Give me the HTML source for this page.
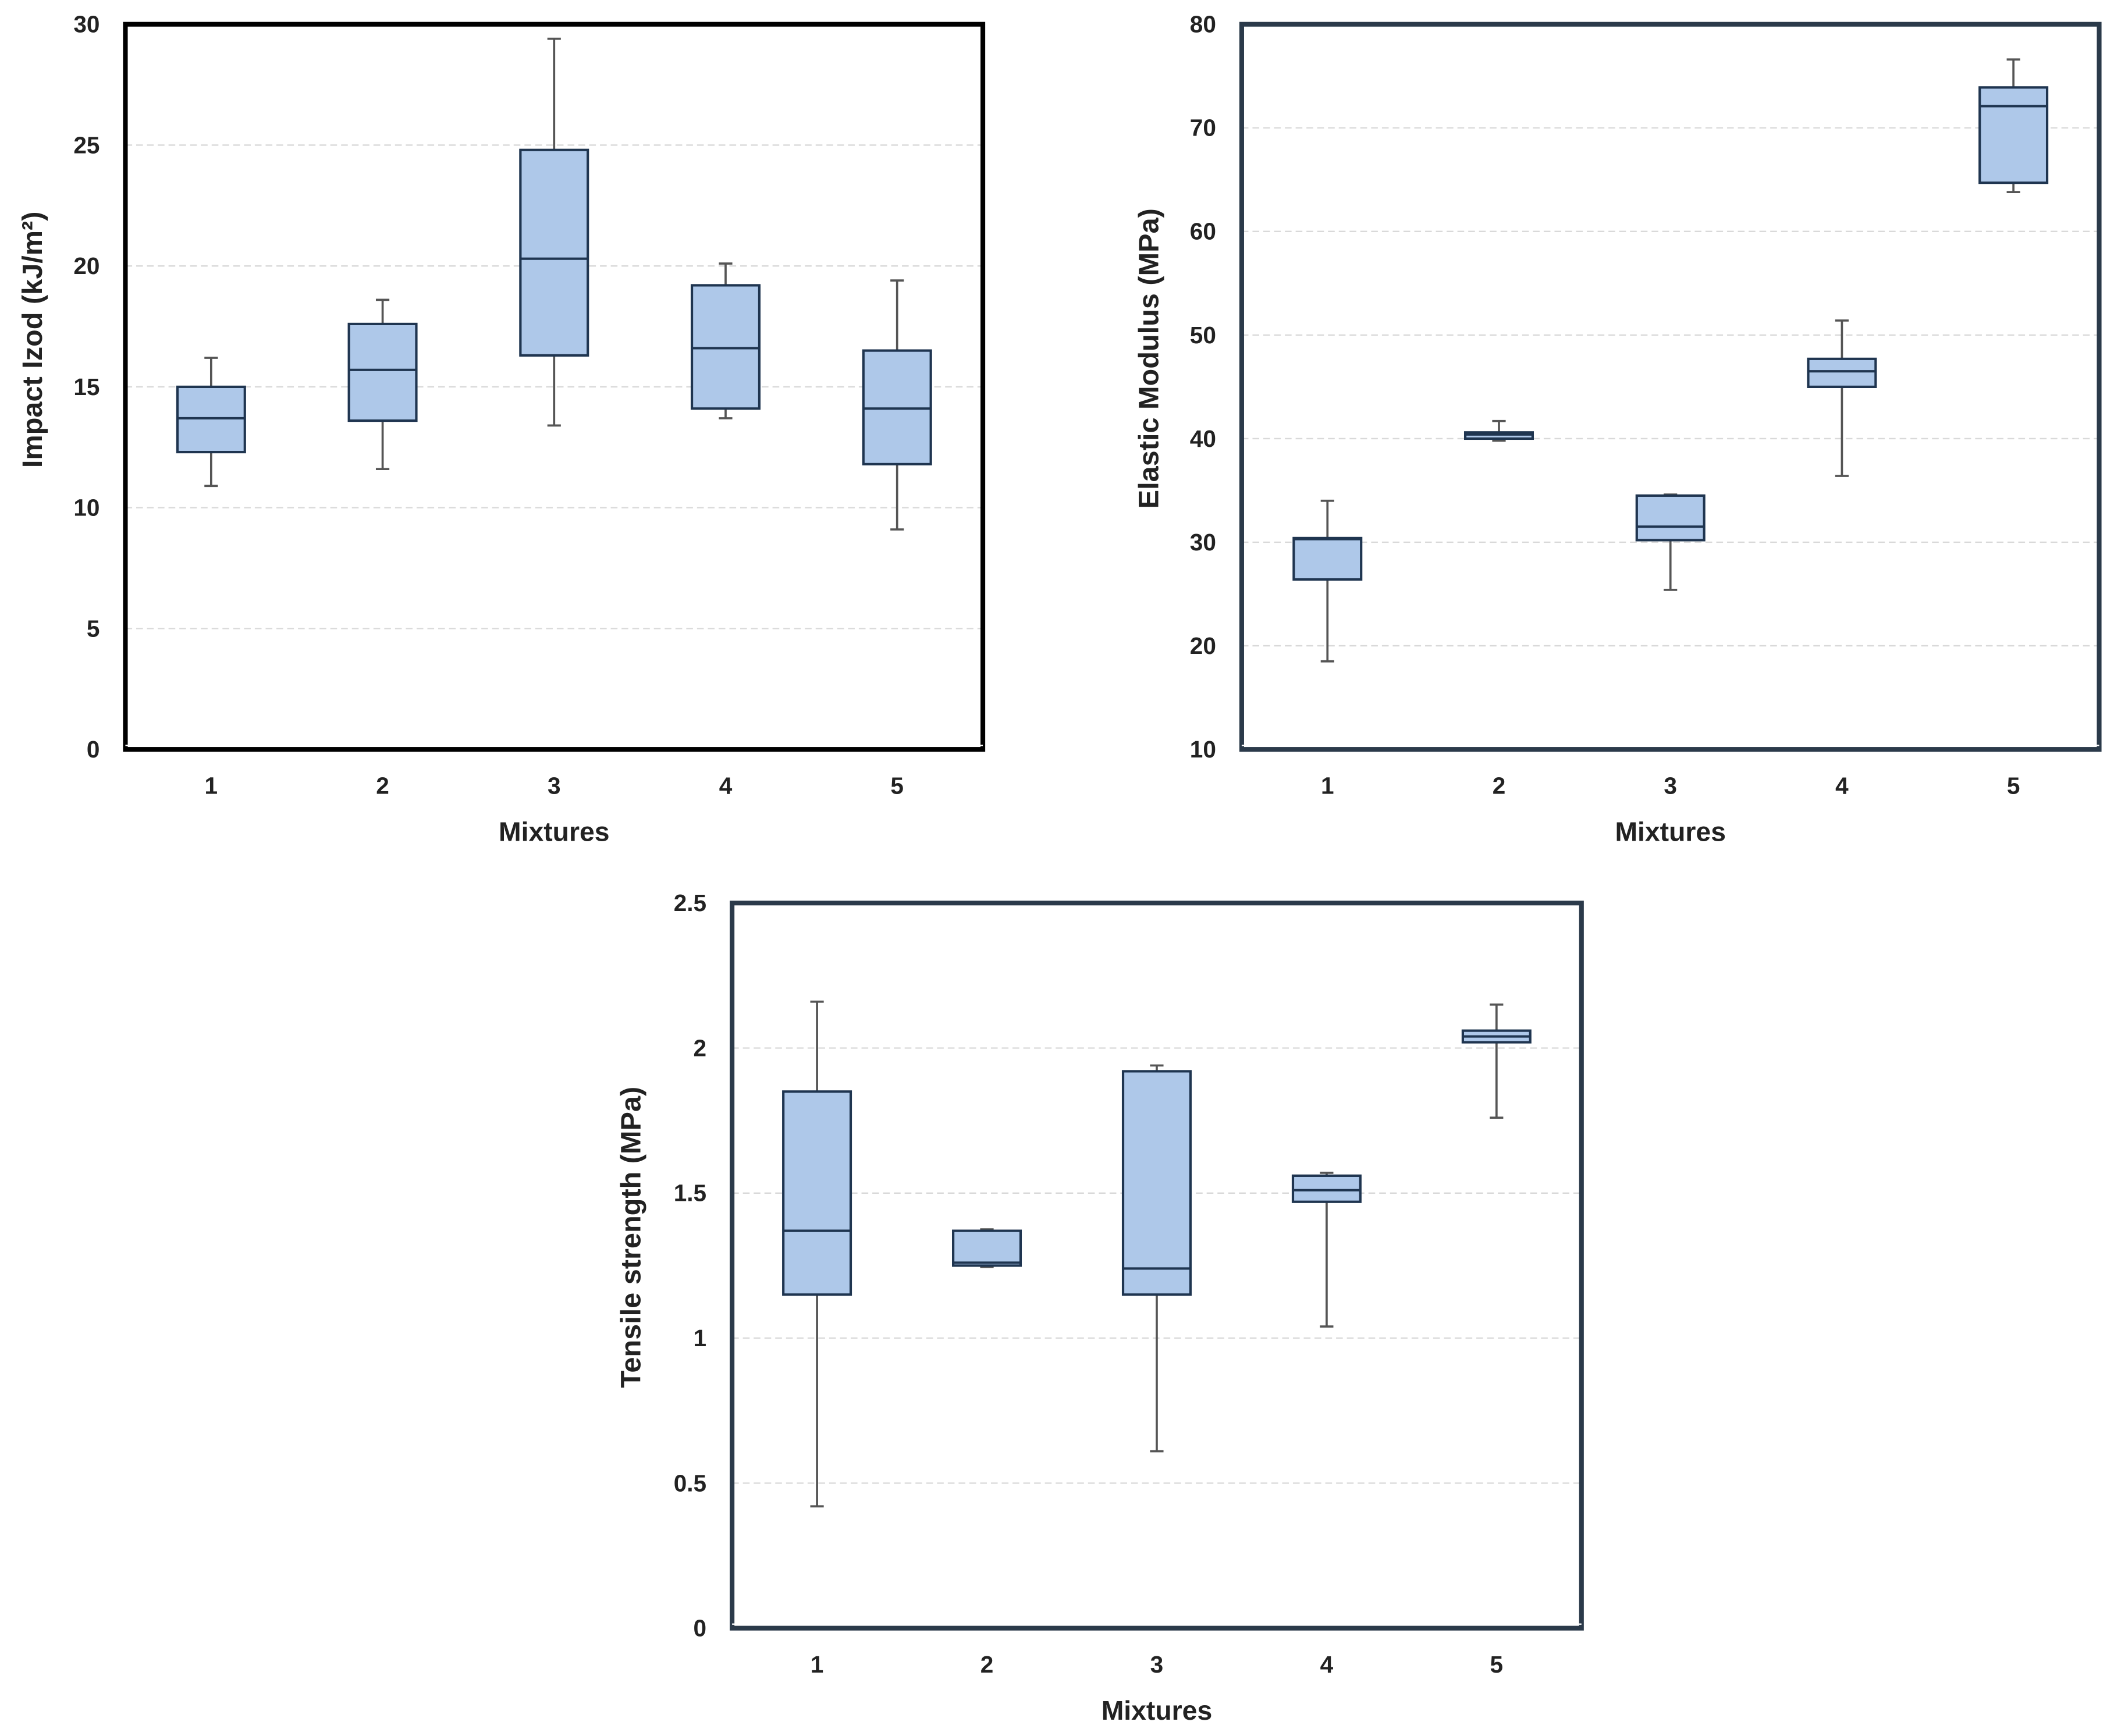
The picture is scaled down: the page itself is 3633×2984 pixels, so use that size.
<!DOCTYPE html>
<html><head><meta charset="utf-8"><style>
html,body{margin:0;padding:0;background:#fff;}
svg{display:block;}
text{font-family:"Liberation Sans",Arial,sans-serif;font-weight:bold;fill:#222;}
</style></head><body>
<svg id="svg" width="3633" height="2984" viewBox="0 0 1568 1288" preserveAspectRatio="none" xmlns="http://www.w3.org/2000/svg"></svg>
<script>
const categories = ["1","2","3","4","5"];
// [min, q1, median, q3, max]
const impactValues = [[10.9,12.3,13.7,15.0,16.2],[11.6,13.6,15.7,17.6,18.6],[13.4,16.3,20.3,24.8,29.4],[13.7,14.1,16.6,19.2,20.1],[9.1,11.8,14.1,16.5,19.4]];
const modulusValues = [[18.5,26.4,30.3,30.4,34.0],[39.8,40.0,40.4,40.6,41.7],[25.4,30.2,31.5,34.5,34.6],[36.4,45.0,46.5,47.7,51.4],[63.8,64.7,72.1,73.9,76.6]];
const tensileValues = [[0.42,1.15,1.37,1.85,2.16],[1.245,1.25,1.26,1.37,1.375],[0.61,1.15,1.24,1.92,1.94],[1.04,1.47,1.51,1.56,1.57],[1.76,2.02,2.04,2.06,2.15]];
const impactTicks = [0,5,10,15,20,25,30];
const modulusTicks = [10,20,30,40,50,60,70,80];
const tensileTicks = [0,0.5,1,1.5,2,2.5];
const impactTickLabels = ["0","5","10","15","20","25","30"];
const modulusTickLabels = ["10","20","30","40","50","60","70","80"];
const tensileTickLabels = ["0","0.5","1","1.5","2","2.5"];

const NS="http://www.w3.org/2000/svg";
const svg=document.getElementById('svg');
function mk(tag,attrs,parent){const e=document.createElementNS(NS,tag);for(const k in attrs)e.setAttribute(k,attrs[k]);(parent||svg).appendChild(e);return e;}

function chart(cfg){
  const g=mk('g',{});
  
  
  const {L,R,T,B,ymin,ymax}=cfg;
  const y=v=>B-(v-ymin)/(ymax-ymin)*(B-T);
  const step=(R-L)/5;
  const x=i=>L+step*(i+0.5);
  cfg.ticks.forEach((t,i)=>{
    if(i>0&&i<cfg.ticks.length-1){
      const gl=mk('line',{x1:L,x2:R,y1:y(t),y2:y(t),stroke:'#d9d9d9','stroke-width':1,'stroke-dasharray':'5,3'},g);
      
      
    }
    const tl=mk('text',{x:L-19,y:y(t)+6,'text-anchor':'end','font-size':17.5},g);
    tl.textContent=cfg.labels[i];
    
    
  });
  cfg.data.forEach((d,i)=>{
    const cx=x(i),w=25;
    const bg=mk('g',{},g);
    
    
    mk('line',{x1:cx,x2:cx,y1:y(d[0]),y2:y(d[1]),stroke:'#555','stroke-width':1.6},bg);
    mk('line',{x1:cx,x2:cx,y1:y(d[3]),y2:y(d[4]),stroke:'#555','stroke-width':1.6},bg);
    mk('line',{x1:cx-5,x2:cx+5,y1:y(d[0]),y2:y(d[0]),stroke:'#555','stroke-width':1.6},bg);
    mk('line',{x1:cx-5,x2:cx+5,y1:y(d[4]),y2:y(d[4]),stroke:'#555','stroke-width':1.6},bg);
    mk('rect',{x:cx-w,y:y(d[3]),width:2*w,height:Math.max(1,y(d[1])-y(d[3])),fill:'#aec8e9',stroke:'#1f3550','stroke-width':1.8},bg);
    mk('line',{x1:cx-w,x2:cx+w,y1:y(d[2]),y2:y(d[2]),stroke:'#1f3550','stroke-width':1.8},bg);
    const xl=mk('text',{x:cx,y:B+33,'text-anchor':'middle','font-size':17.5},g);
    xl.textContent=categories[i];
    
    
  });
  const fr=mk('rect',{x:L,y:T,width:R-L,height:B-T,fill:'none',stroke:cfg.border,'stroke-width':3.5},g);
  
  
  mk('line',{x1:L,x2:R,y1:B-3,y2:B-3,stroke:'#ffffff','stroke-width':1},g);
  const xt=mk('text',{x:(L+R)/2,y:B+68,'text-anchor':'middle','font-size':20},g);
  xt.textContent='Mixtures';
  
  
  const yt=mk('text',{x:0,y:0,'text-anchor':'middle','font-size':21,transform:`translate(${cfg.ytX},${cfg.ytY}) rotate(-90)`},g);
  yt.textContent=cfg.ytitle;
  
  
}
chart({name:'impact-chart',L:93,R:729,T:18,B:556,ymin:0,ymax:30,ticks:impactTicks,labels:impactTickLabels,data:impactValues,border:'#000',ytitle:'Impact Izod (kJ/m²)',ytX:31,ytY:252});
chart({name:'modulus-chart',L:921,R:1557,T:18,B:556,ymin:10,ymax:80,ticks:modulusTicks,labels:modulusTickLabels,data:modulusValues,border:'#2b3a4a',ytitle:'Elastic Modulus (MPa)',ytX:859,ytY:266});
chart({name:'tensile-chart',L:543,R:1173,T:670,B:1208,ymin:0,ymax:2.5,ticks:tensileTicks,labels:tensileTickLabels,data:tensileValues,border:'#2b3a4a',ytitle:'Tensile strength (MPa)',ytX:475,ytY:918});
</script>
</body></html>
